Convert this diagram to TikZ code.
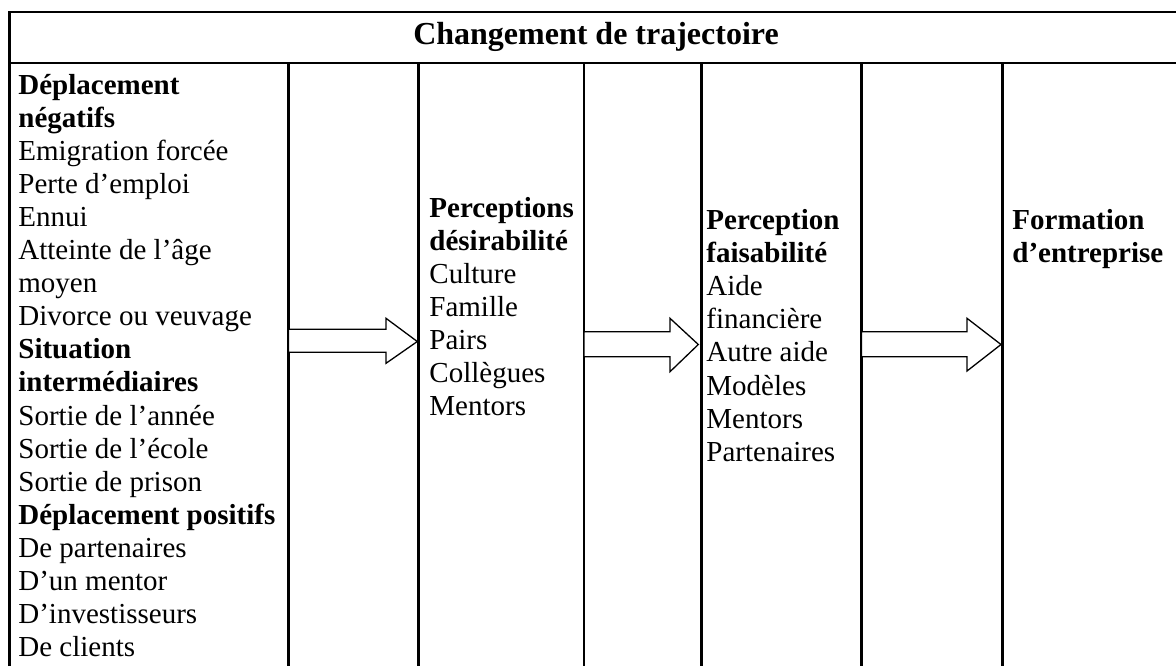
\documentclass[tikz,border=0pt]{standalone}
\usepackage{fontspec}
\setmainfont{Liberation Serif}
\usetikzlibrary{positioning}

\tikzset{
  cell/.style={anchor=base west, inner sep=0pt, align=left,
    font=\fontsize{14.5}{16.55}\selectfont},
  titre/.style={anchor=base, inner sep=0pt, font=\fontsize{16}{19}\selectfont\bfseries},
  grille/.style={line width=1.25pt},
  fleche/.style={draw, line width=0.65pt, fill=white, line join=miter}
}

\begin{document}
\begin{tikzpicture}[x=0.5pt, y=-0.5pt]

        \useasboundingbox (0,0) rectangle (1176,666);

        % table
        \draw[grille] (9.5,666) -- (9.5,12) -- (1176,12);
        \draw[grille] (9.5,63) -- (1176,63);
        \foreach \x in {288.5, 418.5, 584, 701.5, 861.5, 1002.5}
          \draw[grille] (\x,63) -- (\x,666);

        \node[titre] (changement) at (596,44) {Changement de trajectoire};

        % columns (anchored on the baseline of the last line)
        \node[cell] (deplacements) at (18,656.7) {\textbf{Déplacement}\\
          \textbf{négatifs}\\ Emigration forcée\\ Perte d’emploi\\ Ennui\\
          Atteinte de l’âge\\ moyen\\ Divorce ou veuvage\\ \textbf{Situation}\\
          \textbf{intermédiaires}\\ Sortie de l’année\\ Sortie de l’école\\
          Sortie de prison\\ \textbf{Déplacement positifs}\\ De partenaires\\
          D’un mentor\\ D’investisseurs\\ De clients};
        \node[cell] (desirabilite) at (429,415.6) {\textbf{Perceptions}\\
          \textbf{désirabilité}\\ Culture\\ Famille\\ Pairs\\ Collègues\\ Mentors};
        \node[cell] (faisabilite) at (706,461.2) {\textbf{Perception}\\
          \textbf{faisabilité}\\ Aide\\ financière\\ Autre aide\\ Modèles\\
          Mentors\\ Partenaires};
        \node[cell] (formation) at (1012,262.6) {\textbf{Formation}\\
          \textbf{d’entreprise}};

        % arrows
        \draw[fleche] (288.5,329.3) -- (386,329.3) -- (386,318.3) -- (417.3,341.5)
          -- (386,363.3) -- (386,352.3) -- (288.5,352.3) -- cycle;
        \draw[fleche] (584,331.7) -- (670,331.7) -- (670,318.3) -- (698.3,344.5)
          -- (670,371.7) -- (670,356.7) -- (584,356.7) -- cycle;
        \draw[fleche] (861.5,331.7) -- (967,331.7) -- (967,318.3) -- (1001,344.5)
          -- (967,371) -- (967,356.7) -- (861.5,356.7) -- cycle;

\end{tikzpicture}
\end{document}
